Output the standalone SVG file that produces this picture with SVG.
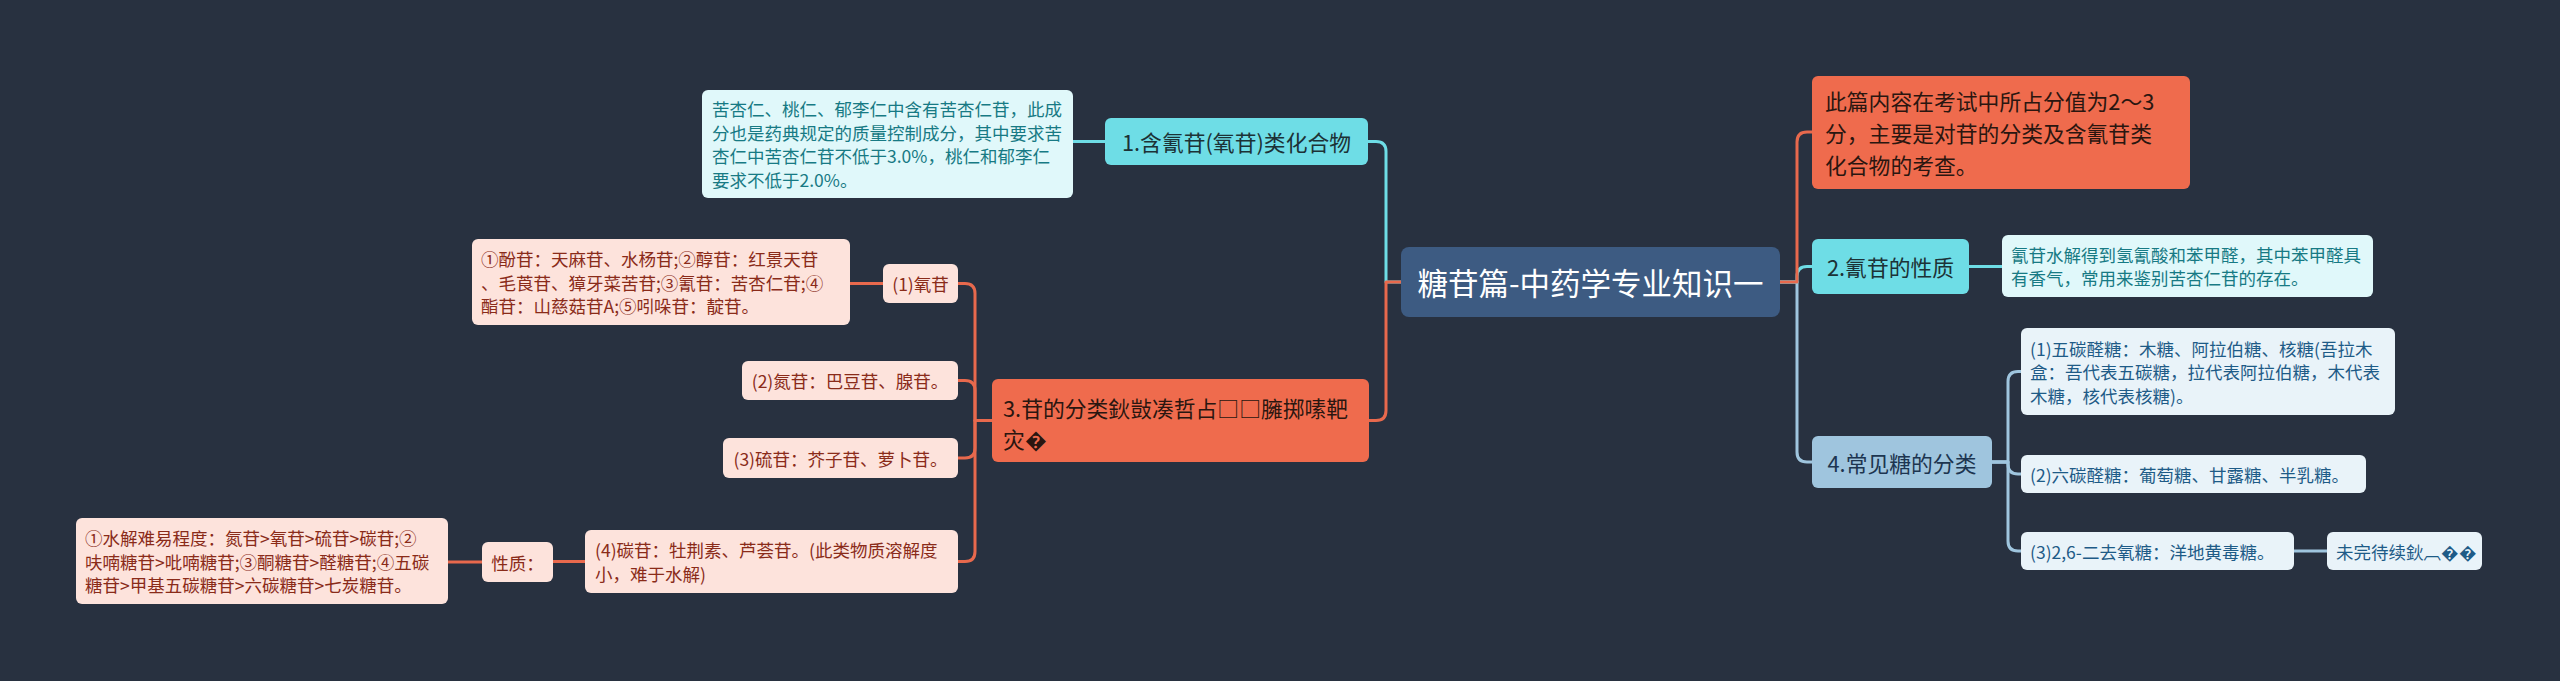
<svg xmlns="http://www.w3.org/2000/svg" width="2560" height="681" viewBox="0 0 2560 681">
<style>
text{font-family:"Noto Sans CJK SC","Microsoft YaHei",sans-serif;dominant-baseline:central}
.c{fill:none;stroke-width:3;stroke-linejoin:round}
.co{stroke:#e8694d}.cc{stroke:#6edde6}.cb{stroke:#9fc5de}
.root rect{fill:#3d5b82}.root text{fill:#ffffff;font-size:30.5px}
.mo rect{fill:#ef6b4d}.mo text{fill:#2a1610;font-size:21.8px}
.mc rect{fill:#6edde6}.mc text{fill:#1c3236;font-size:21.8px}
.mb rect{fill:#9fc5de}.mb text{fill:#1d3550;font-size:21.8px}
.so rect{fill:#fde3dc}.so text{fill:#8a2b19;font-size:17.5px}
.sc rect{fill:#e0f8fa}.sc text{fill:#177a84;font-size:17.5px}
.sb rect{fill:#e9f3f9}.sb text{fill:#1e5b87;font-size:17.5px}
.m{text-anchor:middle}
</style>
<rect width="2560" height="681" fill="#283140"/>
<g id="connectors">
<path class="c cb" d="M1780,282 H1797 V452 Q1797,462 1807,462 H1812"/>
<path class="c cc" d="M1780,282 H1797 V276.5 Q1797,266.5 1807,266.5 H1812"/>
<path class="c co" d="M1780,282 H1797 V142 Q1797,132 1807,132 H1812"/>
<path class="c cc" d="M1969,266.5 H2002"/>
<path class="c cb" d="M1992,462 H2008 V381.5 Q2008,371.5 2018,371.5 H2021"/>
<path class="c cb" d="M1992,462 H2008 V464 Q2008,474 2018,474 H2021"/>
<path class="c cb" d="M1992,462 H2008 V541 Q2008,551 2018,551 H2021"/>
<path class="c cb" d="M2294,551 H2327"/>
<path class="c cc" d="M1401,282 H1386 V151.5 Q1386,141.5 1376,141.5 H1368"/>
<path class="c co" d="M1401,282 H1386 V410.5 Q1386,420.5 1376,420.5 H1369"/>
<path class="c cc" d="M1105,141.5 H1073"/>
<path class="c co" d="M992,420.5 H975 V293.5 Q975,283.5 965,283.5 H958"/>
<path class="c co" d="M992,420.5 H975 V390.5 Q975,380.5 965,380.5 H958"/>
<path class="c co" d="M992,420.5 H975 V448 Q975,458 965,458 H958"/>
<path class="c co" d="M992,420.5 H975 V551.5 Q975,561.5 965,561.5 H958"/>
<path class="c co" d="M883,283.5 H850"/>
<path class="c co" d="M585,561.5 H553"/>
<path class="c co" d="M482,562 H448"/>
</g>
<g id="root" class="root"><rect x="1401" y="247" width="379" height="70" rx="8"/><text x="1590.5" y="282" class="m">糖苷篇-中药学专业知识一</text></g>
<g id="n1" class="mc"><rect x="1105" y="118" width="263" height="47" rx="6"/><text x="1236.5" y="141.5" class="m">1.含氰苷(氧苷)类化合物</text></g>
<g id="n1note" class="sc"><rect x="702" y="90" width="371" height="108" rx="6"/>
<text x="712" y="108.75">苦杏仁、桃仁、郁李仁中含有苦杏仁苷，此成</text>
<text x="712" y="132.25">分也是药典规定的质量控制成分，其中要求苦</text>
<text x="712" y="155.75">杏仁中苦杏仁苷不低于3.0%，桃仁和郁李仁</text>
<text x="712" y="179.25">要求不低于2.0%。</text></g>
<g id="n3" class="mo"><rect x="992" y="379" width="377" height="83" rx="6"/>
<text x="1003" y="407">3.苷的分类鈥敱凑哲占□□臃掷嗉靶</text>
<text x="1003" y="438">灾�</text></g>
<g id="n3a" class="so"><rect x="883" y="264" width="75" height="39" rx="6"/><text x="920.5" y="283.5" class="m">(1)氧苷</text></g>
<g id="n3anote" class="so"><rect x="472" y="239" width="378" height="86" rx="6"/>
<text x="481" y="258.5">①酚苷：天麻苷、水杨苷;②醇苷：红景天苷</text>
<text x="481" y="282">、毛莨苷、獐牙菜苦苷;③氰苷：苦杏仁苷;④</text>
<text x="481" y="305.5">酯苷：山慈菇苷A;⑤吲哚苷：靛苷。</text></g>
<g id="n3b" class="so"><rect x="742" y="361" width="216" height="39" rx="6"/><text x="850" y="380.5" class="m">(2)氮苷：巴豆苷、腺苷。</text></g>
<g id="n3c" class="so"><rect x="723" y="438" width="235" height="40" rx="6"/><text x="840.5" y="458" class="m">(3)硫苷：芥子苷、萝卜苷。</text></g>
<g id="n3d" class="so"><rect x="585" y="530" width="373" height="63" rx="6"/>
<text x="595" y="549.75">(4)碳苷：牡荆素、芦荟苷。(此类物质溶解度</text>
<text x="595" y="573.25">小，难于水解)</text></g>
<g id="n3dprop" class="so"><rect x="482" y="542" width="71" height="40" rx="6"/><text x="517.5" y="562" class="m">性质：</text></g>
<g id="n3dnote" class="so"><rect x="76" y="518" width="372" height="86" rx="6"/>
<text x="85" y="537.5">①水解难易程度：氮苷&gt;氧苷&gt;硫苷&gt;碳苷;②</text>
<text x="85" y="561">呋喃糖苷&gt;吡喃糖苷;③酮糖苷&gt;醛糖苷;④五碳</text>
<text x="85" y="584.5">糖苷&gt;甲基五碳糖苷&gt;六碳糖苷&gt;七炭糖苷。</text></g>
<g id="r0" class="mo"><rect x="1812" y="76" width="378" height="113" rx="6"/>
<text x="1825" y="100.5">此篇内容在考试中所占分值为2～3</text>
<text x="1825" y="132.5">分，主要是对苷的分类及含氰苷类</text>
<text x="1825" y="164.5">化合物的考查。</text></g>
<g id="n2" class="mc"><rect x="1812" y="239" width="157" height="55" rx="6"/><text x="1890.5" y="266.5" class="m">2.氰苷的性质</text></g>
<g id="n2note" class="sc"><rect x="2002" y="235" width="371" height="62" rx="6"/>
<text x="2011" y="254.25">氰苷水解得到氢氰酸和苯甲醛，其中苯甲醛具</text>
<text x="2011" y="277.75">有香气，常用来鉴别苦杏仁苷的存在。</text></g>
<g id="n4" class="mb"><rect x="1812" y="436" width="180" height="52" rx="6"/><text x="1902" y="462" class="m">4.常见糖的分类</text></g>
<g id="n4a" class="sb"><rect x="2021" y="328" width="374" height="87" rx="6"/>
<text x="2030" y="348">(1)五碳醛糖：木糖、阿拉伯糖、核糖(吾拉木</text>
<text x="2030" y="371.5">盒：吾代表五碳糖，拉代表阿拉伯糖，木代表</text>
<text x="2030" y="395">木糖，核代表核糖)。</text></g>
<g id="n4b" class="sb"><rect x="2021" y="455" width="345" height="38" rx="6"/><text x="2030" y="474">(2)六碳醛糖：葡萄糖、甘露糖、半乳糖。</text></g>
<g id="n4c" class="sb"><rect x="2021" y="532" width="273" height="38" rx="6"/><text x="2030" y="551">(3)2,6-二去氧糖：洋地黄毒糖。</text></g>
<g id="n4cnext" class="sb"><rect x="2327" y="532" width="155" height="38" rx="6"/><text x="2336" y="551">未完待续鈥︹��</text></g>
</svg>
